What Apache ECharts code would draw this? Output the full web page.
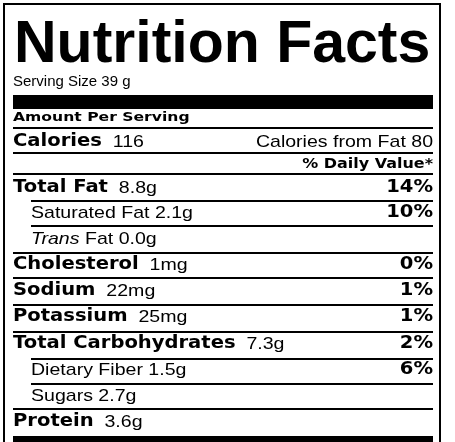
<!DOCTYPE html>
<html><head><meta charset="utf-8">
<script src="https://cdn.jsdelivr.net/npm/echarts@6/dist/echarts.min.js"></script>
<style>html,body{margin:0;padding:0;background:#fff}#c{width:455px;height:442px}</style>
</head><body><div id="c"></div>
<script>
const title = "Nutrition Facts";
const servingSize = "Serving Size 39 g";
const calories = 116;
const caloriesFromFat = 80;
const nutrients = ["Total Fat","Saturated Fat","Trans Fat","Cholesterol","Sodium","Potassium","Total Carbohydrates","Dietary Fiber","Sugars","Protein"];
const amounts = ["8.8g","2.1g","0.0g","1mg","22mg","25mg","7.3g","1.5g","2.7g","3.6g"];
const dailyValues = ["14%","10%","","0%","1%","1%","2%","6%","",""];
const subItem = [false,true,true,false,false,false,false,true,true,false];

const rowY = [188,213,239,265,291,317,344,370,396,422];
const lineY = [200,225,252,277,304,331,358,383,408];
const lineIndent = [true,true,false,false,false,false,true,true,false];
const L=13, R=433, SX=1.15;
const B = "'DejaVu Sans', sans-serif", N = "'Liberation Sans', Arial, sans-serif";
const BF = "bold 17px "+B, NF = "17px "+N, IF = "italic 17px "+N;
const g = [];
function rect(x,y,w,h){g.push({type:'rect',shape:{x,y,width:w,height:h},style:{fill:'#000'}});}
function text(x,y,t,font,align,sx){g.push({type:'text',x,y,scaleX:sx||1,style:{text:t,font,fill:'#000',textAlign:align||'left',textVerticalAlign:'middle'}});}
g.push({type:'rect',shape:{x:4,y:4,width:436,height:446},style:{fill:'none',stroke:'#000',lineWidth:2}});
g.push({type:'text',x:14,y:75,style:{text:title,font:"bold 59px "+N,fill:'#000',textAlign:'left',textVerticalAlign:'bottom'}});
text(L,82,servingSize,"15px "+N);
rect(L,95,R-L,14);
text(L,118,"Amount Per Serving","bold 13px "+B,'left',1.2);
rect(L,127,R-L,2);
g.push({type:'text',x:L,y:142,scaleX:SX,style:{rich:{b:{font:BF},n:{font:NF}},text:"{b|Calories}{n|  "+calories+"}",fill:'#000',textVerticalAlign:'middle'}});
text(R,142,"Calories from Fat "+caloriesFromFat,NF,'right',SX);
rect(L,152,R-L,2);
text(R,164,"% Daily Value*","bold 14px "+B,'right',1.14);
rect(L,173,R-L,2);
nutrients.forEach((n,i)=>{
  const x = subItem[i]?31:L;
  let t;
  if(subItem[i]){
    if(n.startsWith("Trans")) t="{i|Trans}{n| Fat "+amounts[i]+"}";
    else t="{n|"+n+" "+amounts[i]+"}";
  } else t="{b|"+n+"}{n|  "+amounts[i]+"}";
  g.push({type:'text',x,y:rowY[i],scaleX:SX,style:{rich:{b:{font:BF},n:{font:NF},i:{font:IF}},text:t,fill:'#000',textVerticalAlign:'middle'}});
  if(dailyValues[i]) text(R,rowY[i],dailyValues[i],BF,'right',SX);
});
lineY.forEach((y,i)=>{const x=lineIndent[i]?31:L; rect(x,y,R-x,2);});
rect(L,436,R-L,10);
const chart = echarts.init(document.getElementById('c'));
chart.setOption({animation:false,graphic:g});
</script></body></html>
